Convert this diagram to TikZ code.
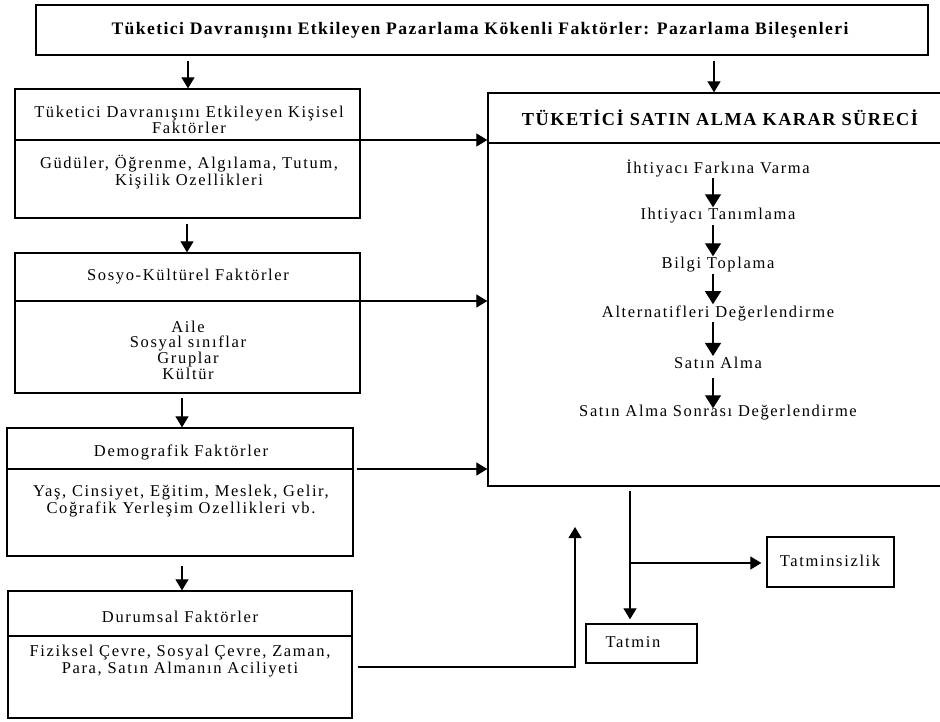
\documentclass[tikz,border=0pt]{standalone}
\usepackage{fontspec}
\setmainfont{Liberation Serif}[LetterSpace=8]
\newfontfamily\lsf{Liberation Serif}[LetterSpace=10]
\usetikzlibrary{arrows.meta}
\begin{document}
\begin{tikzpicture}[x=1pt,y=-1pt,
  box/.style={draw, line width=1.3pt, inner sep=0pt},
  arr/.style={-{Triangle[width=13pt,length=11pt]}, line width=1.2pt},
  sarr/.style={-{Triangle[width=16pt,length=13pt]}, line width=1.3pt},
  txt/.style={align=center, font=\lsf\fontsize{16.5}{16.8}\selectfont, inner sep=1pt},
  ltxt/.style={align=center, font=\lsf\fontsize{16.5}{15.7}\selectfont, inner sep=1pt},
  btxt/.style={align=center, font=\fontsize{17.6}{19}\selectfont\bfseries, inner sep=1pt},
  bbtxt/.style={align=center, font=\fontsize{18.3}{19}\selectfont\bfseries, inner sep=1pt}]
\useasboundingbox (0,0) rectangle (940,722);
\fill[white] (0,0) rectangle (940,722);

% top box
\node[box, minimum width=892pt, minimum height=50pt] (top) at (482,30) {};
\node[btxt] (topt) at (480,30)
  {Tüketici Davranışını Etkileyen Pazarlama Kökenli Faktörler: Pazarlama Bileşenleri};

% left boxes
\node[box, minimum width=345pt, minimum height=129pt] (k1) at (187.5,153.5) {};
\node[box, minimum width=345pt, minimum height=140pt] (k2) at (187.5,323) {};
\node[box, minimum width=346pt, minimum height=128pt] (k3) at (180,492) {};
\node[box, minimum width=344pt, minimum height=127pt] (k4) at (180,654.5) {};

\coordinate (d1) at (0,140);
\coordinate (d2) at (0,301);
\coordinate (d3) at (0,469);
\coordinate (d4) at (0,636);
\draw[line width=1.3pt] (k1.west |- d1) -- (k1.east |- d1);
\draw[line width=1.3pt] (k2.west |- d2) -- (k2.east |- d2);
\draw[line width=1.3pt] (k3.west |- d3) -- (k3.east |- d3);
\draw[line width=1.3pt] (k4.west |- d4) -- (k4.east |- d4);

\node[ltxt] (k1t) at (189,120) {Tüketici Davranışını Etkileyen Kişisel\\Faktörler};
\node[txt] (k1b) at (189,172) {Güdüler, Öğrenme, Algılama, Tutum,\\Kişilik Ozellikleri};
\node[txt] (k2t) at (188,277) {Sosyo-Kültürel Faktörler};
\node[ltxt] (k2b) at (188,350) {Aile\\Sosyal sınıflar\\Gruplar\\Kültür};
\node[txt] (k3t) at (181,452) {Demografik Faktörler};
\node[txt] (k3b) at (181,501) {Yaş, Cinsiyet, Eğitim, Meslek, Gelir,\\Coğrafik Yerleşim Ozellikleri vb.};
\node[txt] (k4t) at (180,617) {Durumsal Faktörler};
\node[txt] (k4b) at (180,661) {Fiziksel Çevre, Sosyal Çevre, Zaman,\\Para, Satın Almanın Aciliyeti};

% big box
\node[box, minimum width=462pt, minimum height=393pt] (big) at (719,289.5) {};
\coordinate (d5) at (0,143);
\draw[line width=1.3pt] (big.west |- d5) -- (big.east |- d5);
\node[bbtxt] (bt) at (720,118) {TÜKETİCİ SATIN ALMA KARAR SÜRECİ};

\node[txt] (s1) at (718,168) {İhtiyacı Farkına Varma};
\node[txt] (s2) at (718,216) {Ihtiyacı Tanımlama};
\node[txt] (s3) at (718,265) {Bilgi Toplama};
\node[txt] (s4) at (718,313) {Alternatifleri Değerlendirme};
\node[txt] (s5) at (718,363) {Satın Alma};
\node[txt] (s6) at (718,413) {Satın Alma Sonrası Değerlendirme};

\coordinate (ax) at (713,0);
\draw[sarr] (s1.south -| ax) -- (s2.north -| ax);
\draw[sarr] (s2.south -| ax) -- (s3.north -| ax);
\draw[sarr] (s3.south -| ax) -- (s4.north -| ax);
\draw[sarr] (s4.south -| ax) -- (s5.north -| ax);
\draw[sarr, shorten <=8pt, shorten >=-4pt] (s5.south -| ax) -- (s6.north -| ax);

% result boxes
\node[box, minimum width=127pt, minimum height=50pt] (tmz) at (830.5,562) {};
\node[txt] (tmzt) at (830,561) {Tatminsizlik};
\node[box, minimum width=111pt, minimum height=39pt] (tmn) at (641.5,643.5) {};
\node[txt] (tmnt) at (633,642) {Tatmin};

% connectors
\coordinate (xl) at (188,0);
\coordinate (xr) at (714,0);
\draw[arr, shorten <=5pt] (top.south -| xl) -- (k1.north -| xl);
\draw[arr, shorten <=5pt] (top.south -| xr) -- (big.north -| xr);
\coordinate (xa) at (187,0);
\coordinate (xb) at (182,0);
\draw[arr, shorten <=5pt] (k1.south -| xa) -- (k2.north -| xa);
\draw[arr, shorten <=4pt] (k2.south -| xb) -- (k3.north -| xb);
\draw[arr, shorten <=9pt] (k3.south -| xb) -- (k4.north -| xb);

\draw[arr] (k1.east |- d1) -- (big.west |- d1);
\draw[arr] (k2.east |- d2) -- (big.west |- d2);
\draw[arr, shorten <=3pt] (k3.east |- d3) -- (big.west |- d3);
\coordinate (fb) at (575,527);
\coordinate (d6) at (0,667);
\draw[arr, shorten <=5pt] (k4.east |- d6) -| (fb);

\coordinate (br) at (630,491);
\coordinate (bj) at (630,563);
\draw[arr, shorten >=4pt] (br) -- (tmn.north -| br);
\draw[arr, shorten >=5pt] (bj) -- (tmz.west |- bj);
\end{tikzpicture}
\end{document}
